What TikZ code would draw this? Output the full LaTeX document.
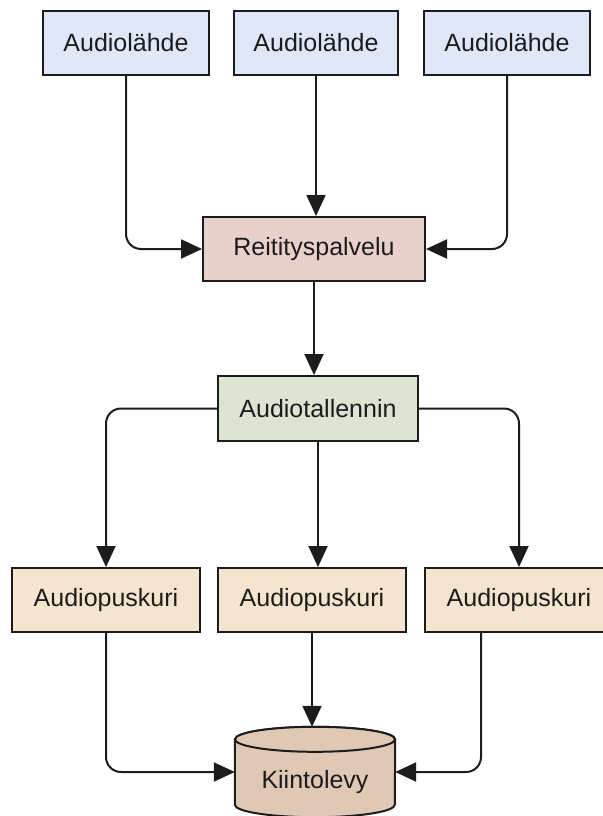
\documentclass[tikz,border=0pt]{standalone}
\usepackage{fontspec}
\setmainfont{Liberation Sans}
\usetikzlibrary{arrows.meta,calc}
\definecolor{edge}{HTML}{1C1C1C}
\definecolor{srcfill}{HTML}{DFE7F8}
\definecolor{routefill}{HTML}{E8D1CB}
\definecolor{recfill}{HTML}{DDE4D2}
\definecolor{buffill}{HTML}{F5E5CF}
\definecolor{diskfill}{HTML}{DFC9B5}
\begin{document}
\begin{tikzpicture}[x=1pt,y=-1pt,
  box/.style={draw=edge, line width=2pt, minimum height=64pt, inner sep=0pt,
    font=\fontsize{25}{30}\selectfont, text=edge},
  conn/.style={draw=edge, line width=2pt, rounded corners=15pt,
    -{Triangle[length=21pt,width=19pt]}},
  cyl/.style={draw=edge, fill=diskfill, line width=2pt}]
\useasboundingbox (0,0) rectangle (602,816);

% audio sources
\node[box, fill=srcfill, minimum width=166pt] (a1) at (126,43) {Audiolähde};
\node[box, fill=srcfill, minimum width=164pt] (a2) at (316,43) {Audiolähde};
\node[box, fill=srcfill, minimum width=166pt] (a3) at (507,43) {Audiolähde};

% routing and recording
\node[box, fill=routefill, minimum width=222pt] (r) at (314,249) {Reitityspalvelu};
\node[box, fill=recfill, minimum width=200pt, minimum height=65pt] (t) at (318,408.5) {Audiotallennin};

% buffers
\node[box, fill=buffill, minimum width=188pt] (p1) at (106,600) {Audiopuskuri};
\node[box, fill=buffill, minimum width=188pt] (p2) at (312,600) {Audiopuskuri};
\node[box, fill=buffill, minimum width=188pt] (p3) at (519,600) {Audiopuskuri};

% disk as a cylinder
\node[minimum width=160pt, minimum height=90pt, inner sep=0pt] (disk) at (315,772) {};
\path[cyl] ([yshift=-12.5pt]disk.north west) -- ([yshift=12.5pt]disk.south west)
  arc[start angle=180, end angle=360, x radius=80pt, y radius=12.5pt]
  -- ([yshift=-12.5pt]disk.north east)
  arc[start angle=0, end angle=180, x radius=80pt, y radius=12.5pt] -- cycle;
\draw[cyl] ([yshift=-12.5pt]disk.north) ellipse [x radius=80pt, y radius=12.5pt];
\node[anchor=base, font=\fontsize{25}{30}\selectfont, text=edge] (disklabel) at (315,788) {Kiintolevy};

% connectors
\draw[conn] (a1.south) |- (r.west);
\draw[conn] (a2.south) -- (a2.south |- r.north);
\draw[conn] (a3.south) |- (r.east);
\draw[conn] (r.south) -- (r.south |- t.north);
\draw[conn] (t.west) -| (p1.north);
\draw[conn] (t.south) -- (t.south |- p2.north);
\draw[conn] (t.east) -| (p3.north);
\draw[conn] (p1.south) |- (disk.west);
\draw[conn] (p2.south) -- (p2.south |- disk.north);
\draw[conn] ([xshift=-38pt]p3.south) |- (disk.east);
\end{tikzpicture}
\end{document}
